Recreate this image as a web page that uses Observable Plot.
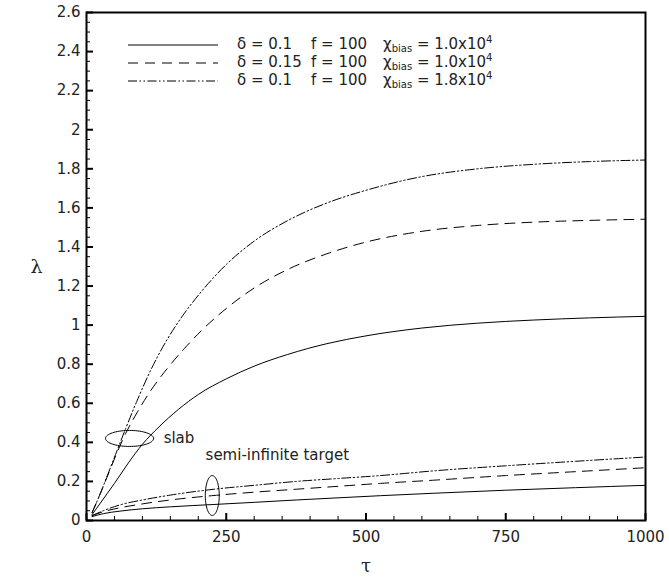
<!DOCTYPE html>
<html><head><meta charset="utf-8">
<script src="https://cdn.jsdelivr.net/npm/d3@7"></script>
<script src="https://cdn.jsdelivr.net/npm/@observablehq/plot@0.6"></script>
<style>
body{margin:0;background:#fff}
#wrap{position:relative;width:669px;height:585px;font-family:"DejaVu Sans",sans-serif;color:#222}
.lg{position:absolute;font-size:15px;line-height:15px;white-space:nowrap}
.lg sub{font-size:10px;vertical-align:-3px;line-height:0}
.lg sup{font-size:10px;vertical-align:6px;line-height:0}
svg.sample{position:absolute;overflow:visible}
</style></head><body><div id="wrap"></div>
<script>
// ---- tick values / labels ----
const xTicks = [0, 250, 500, 750, 1000];
const xTickLabels = ["0", "250", "500", "750", "1000"];
const xMinorTicks = [50,100,150,200,300,350,400,450,550,600,650,700,800,850,900,950];
const yTicks = [0,0.2,0.4,0.6,0.8,1,1.2,1.4,1.6,1.8,2,2.2,2.4,2.6];
const yTickLabels = ["0","0.2","0.4","0.6","0.8","1","1.2","1.4","1.6","1.8","2","2.2","2.4","2.6"];
const yMinorTicks = [0.05,0.1,0.15,0.25,0.3,0.35,0.45,0.5,0.55,0.65,0.7,0.75,0.85,0.9,0.95,1.05,1.1,1.15,1.25,1.3,1.35,1.45,1.5,1.55,1.65,1.7,1.75,1.85,1.9,1.95,2.05,2.1,2.15,2.25,2.3,2.35,2.45,2.5,2.55];

// ---- series: [tau, lambda] ----
// slab, delta=0.1, chi=1.0e4 (solid)
const slabA = [[10,0.03],[25,0.09],[50,0.19],[75,0.295],[100,0.39],[130,0.48],[165,0.57],[200,0.645],[250,0.725],[300,0.79],[360,0.85],[430,0.905],[500,0.945],[600,0.985],[700,1.01],[800,1.026],[900,1.037],[1000,1.045]];
// slab, delta=0.15, chi=1.0e4 (dashed)
const slabB = [[10,0.04],[25,0.14],[40,0.245],[55,0.35],[70,0.445],[90,0.55],[115,0.665],[145,0.78],[175,0.88],[205,0.97],[250,1.085],[300,1.19],[360,1.285],[430,1.365],[500,1.425],[600,1.48],[700,1.51],[800,1.527],[900,1.536],[1000,1.542]];
// slab, delta=0.1, chi=1.8e4 (dash-dot-dot)
const slabC = [[10,0.04],[25,0.14],[40,0.25],[55,0.36],[70,0.47],[90,0.61],[115,0.77],[145,0.93],[175,1.06],[205,1.17],[250,1.31],[300,1.43],[360,1.535],[430,1.625],[500,1.69],[600,1.76],[700,1.8],[800,1.823],[900,1.837],[1000,1.845]];
// semi-infinite target
const semiA = [[10,0.02],[30,0.035],[60,0.048],[100,0.06],[150,0.07],[228,0.082],[300,0.093],[375,0.105],[450,0.116],[526,0.127],[625,0.14],[750,0.155],[875,0.168],[1000,0.18]];
const semiB = [[10,0.025],[30,0.045],[60,0.065],[100,0.085],[150,0.105],[228,0.128],[300,0.145],[375,0.16],[450,0.175],[526,0.19],[625,0.207],[750,0.23],[875,0.25],[1000,0.27]];
const semiC = [[10,0.025],[30,0.05],[60,0.08],[100,0.105],[150,0.13],[228,0.16],[300,0.18],[375,0.2],[450,0.215],[526,0.23],[625,0.255],[750,0.28],[875,0.303],[1000,0.325]];

// ---- legend ----
const legendDelta = ["0.1", "0.15", "0.1"];
const legendF = ["100", "100", "100"];
const legendChi = ["1.0", "1.0", "1.8"];

// ---- annotations: [tau center, lambda center, tau radius, lambda radius] ----
const slabEllipse = [77, 0.42, 43, 0.041];
const semiEllipse = [225, 0.128, 12.5, 0.102];
const annotations = [{t: 138, l: 0.42, text: "slab"}, {t: 213, l: 0.333, text: "semi-infinite target"}];

// ---- layout / styles ----
const W = 669, H = 585, ML = 86, MR = 24, MT = 12, MB = 65;
const plotW = W - ML - MR, plotH = H - MT - MB;
const DASH = [null, "10,7", "9,2.5,1.5,2.5,1.5,2.5"];
const toRows = a => a.map(([t, l]) => ({t, l}));
const ellipse = ([cx, cy, rx, ry]) => d3.range(0, 73).map(i => {
  const a = 2 * Math.PI * i / 72;
  return {t: cx + rx * Math.cos(a), l: cy + ry * Math.sin(a)};
});

const seriesList = [[slabA, 0], [slabB, 1], [slabC, 2], [semiA, 0], [semiB, 1], [semiC, 2]];

const chart = Plot.plot({
  width: W, height: H,
  marginLeft: ML, marginRight: MR, marginTop: MT, marginBottom: MB,
  x: {domain: [0, 1000]},
  y: {domain: [0, 2.6]},
  style: {fontFamily: "DejaVu Sans, sans-serif", fontSize: "15px", color: "#222", background: "#fff"},
  marks: [
    ...seriesList.map(([d, k]) => Plot.line(toRows(d), {x: "t", y: "l", stroke: "#000", strokeWidth: 1, strokeDasharray: DASH[k], curve: "monotone-x"})),
    Plot.line(ellipse(slabEllipse), {x: "t", y: "l", stroke: "#000", strokeWidth: 1}),
    Plot.line(ellipse(semiEllipse), {x: "t", y: "l", stroke: "#000", strokeWidth: 1}),
    Plot.text(annotations, {x: "t", y: "l", text: "text", textAnchor: "start", fontSize: 15, fill: "#222"}),
    Plot.axisX({ticks: xTicks, tickSize: 0, tickPadding: 11, tickFormat: d => xTickLabels[xTicks.indexOf(d)], label: null}),
    Plot.axisY({ticks: yTicks, tickSize: 0, tickPadding: 6, tickFormat: d => yTickLabels[yTicks.indexOf(d)], label: null}),
    // inward ticks
    Plot.ruleX(xTicks, {x: d => d, stroke: "#000", strokeWidth: 2, insetTop: plotH - 7}),
    Plot.ruleX(xMinorTicks, {x: d => d, stroke: "#000", strokeWidth: 1, insetTop: plotH - 4}),
    Plot.ruleY(yTicks, {y: d => d, stroke: "#000", strokeWidth: 2, insetRight: plotW - 7}),
    Plot.ruleY(yMinorTicks, {y: d => d, stroke: "#000", strokeWidth: 1, insetRight: plotW - 4}),
    Plot.text(["τ"], {frameAnchor: "bottom", dy: 51, fontSize: 18, fontFamily: "DejaVu Serif"}),
    Plot.text(["λ"], {frameAnchor: "left", dx: -56, fontSize: 19, fontFamily: "DejaVu Serif"}),
    Plot.frame({stroke: "#000", strokeWidth: 2})
  ]
});
const wrap = document.getElementById("wrap");
wrap.appendChild(chart);

// legend overlay (inside the frame, top-left)
const rowY = [44.5, 62.5, 81];
legendDelta.forEach((dv, i) => {
  const cy = rowY[i];
  const s = document.createElementNS("http://www.w3.org/2000/svg", "svg");
  s.setAttribute("class", "sample");
  s.setAttribute("width", "92"); s.setAttribute("height", "4");
  s.style.left = "127px"; s.style.top = (cy - 2) + "px";
  const ln = document.createElementNS("http://www.w3.org/2000/svg", "line");
  ln.setAttribute("x1", 1); ln.setAttribute("x2", 91); ln.setAttribute("y1", 2); ln.setAttribute("y2", 2);
  ln.setAttribute("stroke", "#000"); ln.setAttribute("stroke-width", 1);
  if (DASH[i]) ln.setAttribute("stroke-dasharray", DASH[i]);
  s.appendChild(ln); wrap.appendChild(s);
  const mk = (x, html) => {
    const e = document.createElement("div");
    e.className = "lg"; e.innerHTML = html;
    e.style.left = x + "px"; e.style.top = (cy - 8) + "px";
    wrap.appendChild(e);
  };
  mk(237, "δ = " + dv);
  mk(311, "f = " + legendF[i]);
  mk(383, "χ<sub>bias</sub> = " + legendChi[i] + "x10<sup>4</sup>");
});
</script></body></html>
